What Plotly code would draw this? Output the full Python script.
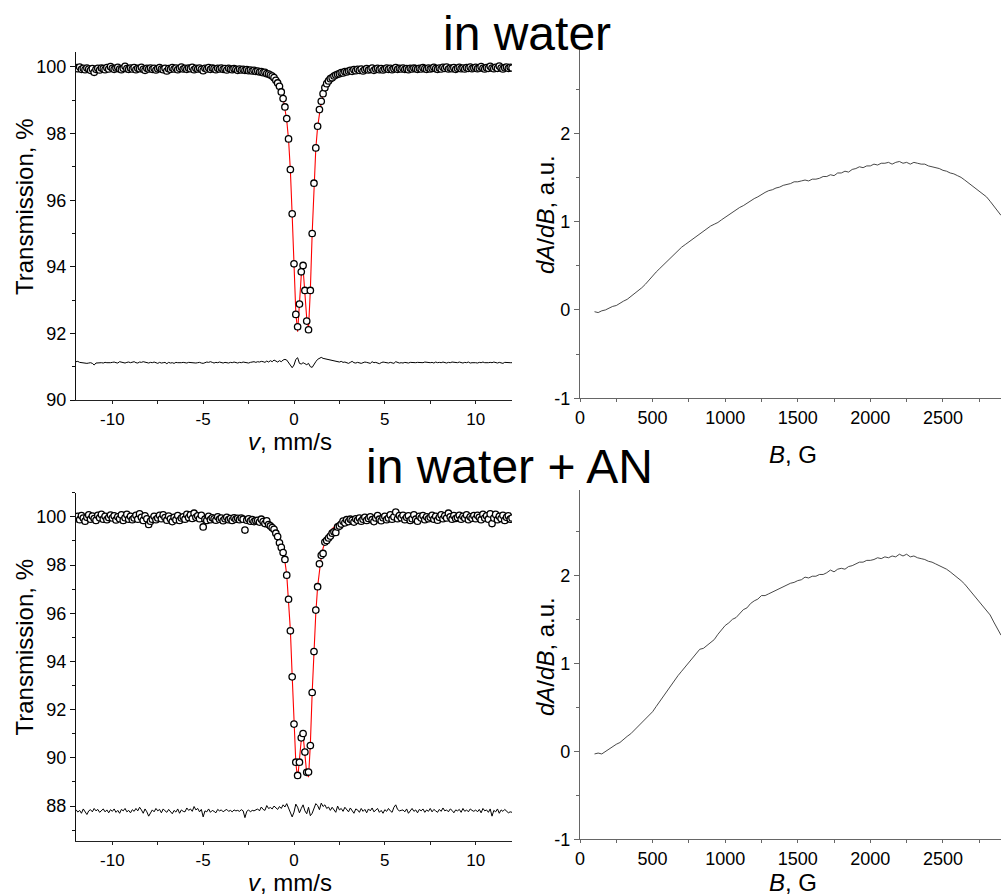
import plotly.graph_objects as go

# ---------------- Mossbauer data (velocity channels, mm/s) ----------------
v_start = -12.0
v_step = 0.1
n_ch = 241
velocity = [round(v_start + v_step * i, 1) for i in range(n_ch)]

trans_water = [
    99.98, 99.95, 100.0, 99.93, 99.96, 99.92, 99.97, 99.94, 99.9, 99.95,
    99.84, 99.93, 99.96, 99.91, 99.97, 99.95, 99.92, 99.98, 99.94, 100.01,
    99.96, 99.93, 99.97, 99.99, 99.94, 99.92, 99.96, 100.02, 99.95, 99.93,
    99.97, 99.94, 99.98, 99.92, 99.96, 99.95, 99.99, 99.93, 99.9, 99.96,
    99.94, 99.97, 99.93, 99.96, 99.91, 99.95, 99.98, 99.94, 99.92, 99.96,
    99.88, 99.95, 99.93, 99.98, 99.94, 99.97, 99.92, 99.96, 100.0, 99.94,
    99.96, 99.93, 99.97, 99.95, 99.99, 99.92, 99.96, 99.94, 99.97, 99.93,
    99.89, 99.96, 99.94, 99.98, 99.93, 99.97, 99.95, 99.92, 99.96, 99.94,
    99.97, 99.93, 99.95, 99.91, 99.96, 99.94, 99.92, 99.95, 99.93, 99.9,
    99.94, 99.91, 99.93, 99.9, 99.92, 99.89, 99.91, 99.88, 99.9, 99.87,
    99.88, 99.85, 99.86, 99.83, 99.84, 99.8, 99.79, 99.76, 99.73, 99.68,
    99.6, 99.52, 99.42, 99.25, 99.05, 98.8, 98.45, 97.84, 96.92, 95.59,
    94.09, 92.57, 92.2, 92.88, 93.85, 94.04, 93.29, 92.37, 92.11, 93.29,
    95.0, 96.51, 97.57, 98.22, 98.72, 98.97, 99.2, 99.38, 99.5, 99.58,
    99.65, 99.68, 99.73, 99.76, 99.78, 99.8, 99.83, 99.82, 99.86, 99.85,
    99.88, 99.9, 99.87, 99.92, 99.89, 99.93, 99.9, 99.94, 99.88, 99.92,
    99.95, 99.91, 99.93, 99.97, 99.9, 99.94, 99.96, 99.92, 99.95, 99.91,
    99.94, 99.97, 99.93, 99.96, 99.92, 99.95, 99.98, 99.93, 99.96, 99.94,
    99.97, 99.93, 99.95, 99.92, 99.96, 99.94, 99.97, 99.95, 99.93, 99.96,
    99.94, 99.98, 99.95, 99.93, 99.97, 99.94, 99.96, 99.99, 99.95, 99.93,
    99.97, 99.94, 99.99, 99.96, 100.0, 99.94, 99.97, 99.95, 99.98, 99.93,
    99.96, 99.99, 99.95, 99.97, 99.94, 99.98, 99.96, 100.0, 99.95, 99.97,
    99.99, 99.95, 99.97, 100.01, 99.96, 99.94, 99.98, 99.96, 100.02, 99.97,
    99.95, 99.99, 99.96, 100.03, 99.97, 99.94, 99.98, 100.0, 99.96, 99.99,
    99.97,
]

resid_water = [
    91.15, 91.16, 91.13, 91.12, 91.11, 91.12, 91.1, 91.11, 91.12, 91.1,
    91.05, 91.11, 91.12, 91.11, 91.12, 91.11, 91.13, 91.12, 91.11, 91.12,
    91.13, 91.14, 91.12, 91.11, 91.15, 91.13, 91.12, 91.11, 91.13, 91.14,
    91.12, 91.13, 91.15, 91.12, 91.11, 91.14, 91.13, 91.15, 91.13, 91.12,
    91.11, 91.13, 91.12, 91.14, 91.12, 91.1, 91.13, 91.11, 91.12, 91.13,
    91.09, 91.13, 91.11, 91.12, 91.1, 91.13, 91.12, 91.11, 91.12, 91.13,
    91.12, 91.11, 91.13, 91.12, 91.11, 91.12, 91.11, 91.12, 91.13, 91.11,
    91.1, 91.12, 91.14, 91.13, 91.15, 91.13, 91.11, 91.13, 91.12, 91.14,
    91.12, 91.11, 91.13, 91.12, 91.11, 91.13, 91.12, 91.14, 91.12, 91.11,
    91.13, 91.12, 91.14, 91.13, 91.12, 91.11, 91.13, 91.14, 91.15, 91.13,
    91.15, 91.14, 91.16, 91.15, 91.13, 91.17, 91.14, 91.18, 91.15, 91.2,
    91.16, 91.14, 91.18, 91.15, 91.2, 91.22, 91.2, 91.12, 91.03, 90.97,
    91.05, 91.22, 91.27, 91.1, 91.08, 91.12, 91.09, 91.06, 91.1, 91.0,
    90.98, 91.08, 91.15, 91.22, 91.26, 91.28, 91.25, 91.24, 91.21, 91.22,
    91.19, 91.2, 91.17, 91.18, 91.15, 91.14, 91.16, 91.13, 91.14, 91.12,
    91.1, 91.13, 91.16, 91.12, 91.11, 91.13, 91.12, 91.1, 91.12, 91.14,
    91.13, 91.11, 91.1, 91.15, 91.12, 91.13, 91.11, 91.09, 91.12, 91.14,
    91.13, 91.12, 91.11, 91.13, 91.12, 91.1, 91.15, 91.12, 91.11, 91.12,
    91.11, 91.13, 91.12, 91.11, 91.13, 91.12, 91.11, 91.12, 91.13, 91.12,
    91.11, 91.12, 91.14, 91.13, 91.11, 91.12, 91.13, 91.11, 91.14, 91.12,
    91.13, 91.12, 91.14, 91.12, 91.11, 91.13, 91.12, 91.14, 91.13, 91.11,
    91.12, 91.14, 91.12, 91.11, 91.13, 91.12, 91.14, 91.11, 91.12, 91.13,
    91.12, 91.11, 91.13, 91.12, 91.14, 91.12, 91.11, 91.12, 91.13, 91.12,
    91.14, 91.12, 91.11, 91.13, 91.12, 91.1, 91.13, 91.12, 91.11, 91.12,
    91.12,
]

trans_water_an = [
    99.92, 100.02, 99.88, 100.05, 99.95, 99.82, 99.98, 100.08, 99.9, 100.03,
    99.93, 99.85, 100.06, 99.96, 100.1, 99.9, 100.02, 99.88, 99.97, 100.07,
    99.95, 100.04, 99.87, 100.0, 99.92, 100.08, 99.85, 99.96, 100.1, 99.9,
    100.02, 99.88, 99.95, 100.06, 99.9, 100.12, 99.98, 99.85, 100.04, 99.92,
    99.68, 99.82, 99.9, 100.02, 99.88, 99.95, 100.06, 99.92, 100.08, 99.97,
    99.86, 100.03, 99.92, 99.8, 99.98, 99.88, 100.05, 99.85, 99.95, 100.0,
    99.9, 100.1, 99.97, 100.08, 99.93, 100.15, 99.98, 100.04, 99.92, 100.06,
    99.58, 99.9, 99.85, 100.02, 99.88, 99.96, 99.92, 99.86, 100.0, 99.9,
    99.95, 99.84, 99.92, 99.98, 99.88, 99.93, 99.85, 99.96, 99.9, 99.94,
    99.88, 99.95, 99.9, 99.45, 99.86, 99.92, 99.82, 99.88, 99.8, 99.84,
    99.85, 99.78, 99.9, 99.8, 99.72, 99.83, 99.68, 99.62, 99.55, 99.48,
    99.32, 99.18, 98.92, 98.73, 98.52, 98.23, 97.58, 96.58, 95.27, 93.36,
    91.4, 89.82, 89.27, 89.82, 90.83, 91.01, 90.24, 89.4, 89.41, 90.51,
    92.71, 94.41, 96.13, 97.1, 98.05, 98.4, 98.48, 98.95, 99.02, 99.12,
    99.2, 99.32, 99.38, 99.35, 99.58, 99.62, 99.7, 99.82, 99.75, 99.88,
    99.8, 99.9, 99.85, 99.78, 99.92, 99.86, 99.95, 99.82, 99.9, 99.98,
    99.85, 99.93, 100.0, 99.88, 99.8, 99.95, 100.05, 99.9, 99.84, 99.96,
    100.02, 99.88, 99.95, 100.08, 99.9, 100.0, 100.2, 99.92, 100.05, 99.96,
    100.06, 99.88, 99.98, 100.04, 99.85, 99.92, 100.08, 99.9, 99.82, 100.02,
    99.95, 100.05, 99.88, 100.0, 99.92, 99.98, 100.06, 99.9, 100.02, 99.86,
    99.98, 100.08, 99.92, 100.04, 99.95, 100.15, 100.0, 99.9, 100.05, 99.93,
    99.97, 100.06, 99.9, 100.02, 99.95, 100.08, 99.88, 100.0, 99.94, 100.05,
    99.92, 100.06, 99.98, 99.88, 100.1, 99.95, 100.04, 99.9, 100.12, 99.72,
    99.95, 100.1, 99.88, 100.02, 99.93, 100.06, 99.85, 99.98, 100.04, 99.9,
    99.95,
]

resid_water_an = [
    87.85, 87.75, 87.82, 87.7, 87.88, 87.78, 87.65, 87.8, 87.85, 87.76,
    87.9, 87.8, 87.86, 87.74, 87.82, 87.88, 87.76, 87.84, 87.72, 87.85,
    87.78, 87.88, 87.74, 87.82, 87.7, 87.86, 87.8, 87.9, 87.76, 87.82,
    87.72, 87.85, 87.78, 87.9, 87.8, 87.95, 87.84, 87.7, 87.88, 87.76,
    87.58, 87.72, 87.84, 87.76, 87.9, 87.8, 87.86, 87.72, 87.88, 87.8,
    87.74, 87.86, 87.78, 87.68, 87.82, 87.75, 87.88, 87.7, 87.84, 87.78,
    87.76, 87.92, 87.82, 87.88, 87.78, 87.98, 87.84, 87.9, 87.76, 87.86,
    87.55, 87.8, 87.76, 87.88, 87.74, 87.82, 87.78, 87.72, 87.86, 87.8,
    87.84, 87.76, 87.82, 87.86, 87.78, 87.82, 87.76, 87.84, 87.8, 87.82,
    87.78, 87.85, 87.8, 87.52, 87.78, 87.84, 87.76, 87.82, 87.8, 87.85,
    87.88, 87.8, 87.96, 87.86, 87.82, 88.02, 87.9, 87.94, 87.88, 88.0,
    87.92, 87.86, 87.98, 87.9, 88.05, 87.96, 88.1, 87.92, 87.7, 87.55,
    87.75, 88.08, 87.95, 87.72, 87.9, 88.05, 87.8, 87.68, 87.95, 87.6,
    87.7, 87.92, 88.1, 88.02, 87.85, 88.12, 87.98, 88.05, 87.9, 87.96,
    87.82, 87.95, 87.86, 87.74, 88.0, 87.84, 87.9, 87.78, 87.95, 87.86,
    87.76, 87.92, 87.8, 87.7, 87.88, 87.84, 87.74, 87.9, 87.78, 87.86,
    87.72, 87.88, 87.8, 87.92, 87.76, 87.84, 87.9, 87.74, 87.82, 87.7,
    87.85, 87.78, 87.9, 87.8, 87.74, 87.95, 88.05, 87.86, 87.8, 87.82,
    87.84, 87.76, 87.88, 87.7, 87.82, 87.9, 87.78, 87.84, 87.72, 87.86,
    87.8, 87.88, 87.74, 87.84, 87.78, 87.9, 87.76, 87.86, 87.8, 87.74,
    87.86, 87.78, 87.92, 87.8, 87.84, 87.76, 87.88, 87.82, 87.72, 87.84,
    87.8, 87.86, 87.74, 87.9, 87.78, 87.84, 87.76, 87.88, 87.82, 87.78,
    87.84, 87.76, 87.86, 87.72, 87.9, 87.8, 87.84, 87.74, 87.88, 87.58,
    87.82, 87.76, 87.88, 87.7, 87.84, 87.78, 87.86, 87.8, 87.72, 87.76,
    87.74,
]

# fitted curves (central part -3..3 mm/s plus the far ends)
fit_velocity = [-12.0] + [round(-3.0 + 0.1 * i, 1) for i in range(61)] + [12.0]
fit_water = [
    99.96,
    99.92, 99.92, 99.91, 99.91, 99.9, 99.9, 99.89, 99.88, 99.88, 99.87,
    99.86, 99.85, 99.84, 99.83, 99.81, 99.79, 99.77, 99.75, 99.72, 99.68,
    99.62, 99.55, 99.45, 99.3, 99.08, 98.78, 98.4, 97.82, 96.9, 95.55,
    94.0, 92.62, 92.05, 92.85, 93.75, 93.95, 93.3, 92.45, 92.15, 93.3,
    95.0, 96.5, 97.55, 98.2, 98.65, 98.95, 99.17, 99.33, 99.45, 99.54,
    99.61, 99.66, 99.7, 99.74, 99.77, 99.79, 99.81, 99.83, 99.84, 99.86,
    99.87,
    99.96,
]
fit_water_an = [
    99.96,
    99.9, 99.89, 99.89, 99.88, 99.87, 99.86, 99.85, 99.84, 99.82, 99.81,
    99.8, 99.78, 99.75, 99.72, 99.68, 99.63, 99.57, 99.5, 99.42, 99.32,
    99.2, 99.05, 98.9, 98.72, 98.5, 98.15, 97.6, 96.6, 95.3, 93.4,
    91.4, 89.8, 89.12, 89.85, 90.75, 90.95, 90.2, 89.35, 89.2, 90.55,
    92.7, 94.45, 96.0, 97.1, 97.85, 98.35, 98.7, 98.95, 99.15, 99.3,
    99.42, 99.5, 99.57, 99.63, 99.68, 99.72, 99.75, 99.78, 99.8, 99.82,
    99.84,
    99.96,
]

# ---------------- EPR data ----------------
field = list(range(100, 2901, 25))
epr_water = [
    -0.02, -0.03, -0.01, 0.00, 0.02, 0.04, 0.05, 0.08, 0.10, 0.12,
    0.15, 0.18, 0.21, 0.25, 0.29, 0.34, 0.39, 0.43, 0.47, 0.51,
    0.55, 0.60, 0.63, 0.67, 0.71, 0.74, 0.77, 0.80, 0.84, 0.86,
    0.89, 0.92, 0.95, 0.97, 0.99, 1.02, 1.05, 1.07, 1.11, 1.13,
    1.16, 1.18, 1.21, 1.23, 1.26, 1.28, 1.31, 1.33, 1.35, 1.36,
    1.38, 1.39, 1.41, 1.42, 1.43, 1.45, 1.45, 1.46, 1.47, 1.46,
    1.48, 1.48, 1.49, 1.51, 1.51, 1.53, 1.52, 1.55, 1.55, 1.57,
    1.56, 1.59, 1.60, 1.62, 1.61, 1.63, 1.63, 1.65, 1.64, 1.66,
    1.66, 1.67, 1.65, 1.67, 1.68, 1.66, 1.67, 1.65, 1.67, 1.66,
    1.65, 1.65, 1.63, 1.62, 1.61, 1.60, 1.58, 1.57, 1.55, 1.54,
    1.52, 1.50, 1.47, 1.44, 1.41, 1.38, 1.35, 1.31, 1.28, 1.23,
    1.18, 1.13, 1.07,
]
epr_water_an = [
    -0.03, -0.02, -0.03, 0.00, 0.03, 0.05, 0.08, 0.10, 0.14, 0.17,
    0.20, 0.24, 0.28, 0.32, 0.36, 0.40, 0.45, 0.51, 0.57, 0.63,
    0.69, 0.74, 0.80, 0.86, 0.91, 0.96, 1.01, 1.06, 1.10, 1.16,
    1.17, 1.20, 1.23, 1.27, 1.33, 1.38, 1.43, 1.46, 1.50, 1.52,
    1.57, 1.61, 1.63, 1.68, 1.71, 1.73, 1.77, 1.77, 1.79, 1.81,
    1.83, 1.85, 1.87, 1.89, 1.91, 1.92, 1.94, 1.95, 1.98, 1.97,
    1.99, 1.99, 2.01, 2.01, 2.03, 2.06, 2.04, 2.07, 2.08, 2.07,
    2.10, 2.11, 2.13, 2.15, 2.15, 2.17, 2.17, 2.18, 2.20, 2.19,
    2.21, 2.20, 2.22, 2.21, 2.24, 2.22, 2.24, 2.21, 2.22, 2.20,
    2.19, 2.18, 2.16, 2.15, 2.13, 2.11, 2.09, 2.07, 2.04, 2.01,
    1.97, 1.94, 1.90, 1.85, 1.80, 1.76, 1.71, 1.66, 1.61, 1.55,
    1.47, 1.40, 1.32,
]

titles = ["in water", "in water + AN"]
v_ticks = [-10, -5, 0, 5, 10]
b_ticks = [0, 500, 1000, 1500, 2000, 2500]
epr_ticks = [-1, 0, 1, 2]
t1_ticks = [90, 92, 94, 96, 98, 100]
t2_ticks = [88, 90, 92, 94, 96, 98, 100]

FONT = "Liberation Sans, Arial, sans-serif"
W, H = 1001, 895

def px_x(p):
    return p / W

def px_y(p):
    return 1 - p / H

fig = go.Figure()

marker_style = dict(symbol="circle", size=6.4, color="white",
                    line=dict(color="black", width=1.3))

panels = [
    ("x", "y", trans_water, resid_water, fit_water),
    ("x3", "y3", trans_water_an, resid_water_an, fit_water_an),
]
for xa, ya, tr, rs, ft in panels:
    fig.add_trace(go.Scatter(x=velocity, y=rs, mode="lines", xaxis=xa, yaxis=ya,
                             line=dict(color="black", width=1), showlegend=False))
    fig.add_trace(go.Scatter(x=fit_velocity, y=ft, mode="lines", xaxis=xa, yaxis=ya,
                             line=dict(color="#ff0000", width=1.1), showlegend=False))
    fig.add_trace(go.Scatter(x=velocity, y=tr, mode="markers", xaxis=xa, yaxis=ya,
                             marker=marker_style, showlegend=False))

fig.add_trace(go.Scatter(x=field, y=epr_water, mode="lines", xaxis="x2", yaxis="y2",
                         line=dict(color="#333333", width=0.9), showlegend=False))
fig.add_trace(go.Scatter(x=field, y=epr_water_an, mode="lines", xaxis="x4", yaxis="y4",
                         line=dict(color="#333333", width=0.9), showlegend=False))

def tickfont(size):
    return dict(family=FONT, size=size, color="black")

def labels(vals):
    return [str(v) for v in vals]

def xax(domain, anchor, rng, tickvals, minor, color, fsize=18):
    return dict(domain=domain, anchor=anchor, range=rng,
                tickmode="array", tickvals=tickvals, ticktext=labels(tickvals),
                showline=True, linecolor=color, linewidth=1.3, ticks="outside",
                ticklen=3, tickwidth=1.2, tickcolor=color, showgrid=False,
                zeroline=False, tickfont=tickfont(fsize),
                minor=dict(dtick=minor, tick0=0, ticks="outside", ticklen=3,
                           tickcolor=color, tickwidth=1, showgrid=False))

def yax(domain, anchor, rng, tickvals, minor, color):
    return dict(domain=domain, anchor=anchor, range=rng,
                tickmode="array", tickvals=tickvals, ticktext=labels(tickvals),
                showline=True, linecolor=color, linewidth=1.3, ticks="outside",
                ticklen=5, tickwidth=1.2, tickcolor=color, showgrid=False,
                zeroline=False, tickfont=tickfont(18),
                minor=dict(dtick=minor, tick0=0, ticks="outside", ticklen=3,
                           tickcolor=color, tickwidth=1, showgrid=False))

left_dom = [px_x(76), px_x(512)]
right_dom = [px_x(580), 1.0]

fig.update_layout(
    width=W, height=H,
    margin=dict(l=0, r=0, t=0, b=0, pad=0, autoexpand=False),
    paper_bgcolor="white", plot_bgcolor="white",
    showlegend=False,
    xaxis=xax(left_dom, "y", [-12, 12], v_ticks, 2.5, "#222222", 17),
    yaxis=yax([px_y(400), px_y(52)], "x", [90, 100.45], t1_ticks, 1, "#111111"),
    xaxis2=xax(right_dom, "y2", [0, 2900], b_ticks, 250, "#666666"),
    yaxis2=yax([px_y(398.3), px_y(47.5)], "x2", [-1, 2.97], epr_ticks, 0.5, "#666666"),
    xaxis3=xax(left_dom, "y3", [-12, 12], v_ticks, 2.5, "#222222", 17),
    yaxis3=yax([px_y(841), px_y(492.7)], "x3", [86.55, 101.0], t2_ticks, 1, "#111111"),
    xaxis4=xax(right_dom, "y4", [0, 2900], b_ticks, 250, "#666666"),
    yaxis4=yax([px_y(839.3), px_y(490)], "x4", [-1, 2.97], epr_ticks, 0.5, "#666666"),
)

def ann(text, x, y, size, angle=0):
    fig.add_annotation(text=text, x=px_x(x), y=px_y(y), xref="paper", yref="paper",
                       xanchor="center", yanchor="middle", showarrow=False,
                       textangle=angle, borderpad=0,
                       font=dict(family=FONT, size=size, color="black"))

ann(titles[0], 527, 33, 48)
ann(titles[1], 509, 467, 48)
ann("Transmission, %", 24, 207, 24, -90)
ann("Transmission, %", 24, 647.5, 24, -90)
ann("<i>v</i>, mm/s", 290, 441, 24)
ann("<i>v</i>, mm/s", 290, 882, 24)
ann("<i>dA</i>/<i>dB</i>, a.u.", 545, 215, 24, -90)
ann("<i>dA</i>/<i>dB</i>, a.u.", 545, 657, 24, -90)
ann("<i>B</i>, G", 793, 454, 24)
ann("<i>B</i>, G", 793, 882, 24)

fig.write_html("out.html")
